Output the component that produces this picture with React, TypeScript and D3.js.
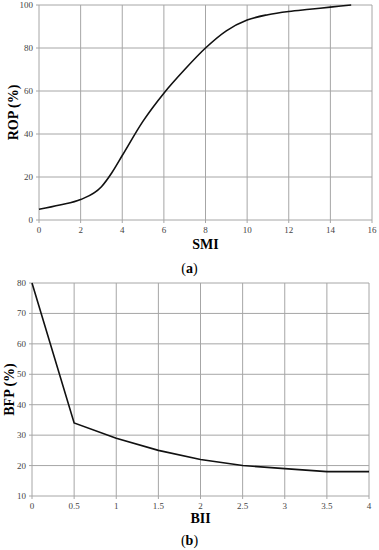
import * as React from "react";
import * as d3 from "d3";

// panel (a)
const smiX = [0, 1, 2, 3, 3.5, 4, 5, 6, 7, 8, 9, 10, 11, 12, 13, 14, 15];
const ropY = [5, 7, 9.5, 15.5, 22, 30, 46, 59, 70, 80, 88, 93, 95.5, 97, 98, 99, 100];
const smiTicks = [0, 2, 4, 6, 8, 10, 12, 14, 16];
const ropTicks = [0, 20, 40, 60, 80, 100];

// panel (b)
const biiX = [0, 0.5, 1, 1.5, 2, 2.5, 3, 3.5, 4];
const bfpY = [80, 34, 29, 25, 22, 20, 19, 18, 18];
const biiTicks = [0, 0.5, 1, 1.5, 2, 2.5, 3, 3.5, 4];
const bfpTicks = [10, 20, 30, 40, 50, 60, 70, 80];

const FONT = "'Liberation Serif', 'DejaVu Serif', serif";

function Panel(props) {
  const { xs, ys, xTicks, yTicks, xDom, yDom, box, xLabel, yLabel, caption, curve, yLabelX, xLabelDy, capDy } = props;
  const x = d3.scaleLinear().domain(xDom).range([box.left, box.right]);
  const y = d3.scaleLinear().domain(yDom).range([box.bottom, box.top]);
  const pts = xs.map((v, i) => [v, ys[i]]);
  const line = d3.line().x((d: any) => x(d[0])).y((d: any) => y(d[1])).curve(curve);
  const midY = (box.top + box.bottom) / 2;
  return (
    <g>
      {xTicks.map((t) => (
        <line key={"gx" + t} x1={x(t)} x2={x(t)} y1={box.top} y2={box.bottom + 3} stroke="#a6a6a6" strokeWidth={1} />
      ))}
      {yTicks.map((t) => (
        <line key={"gy" + t} x1={box.left - 3} x2={box.right} y1={y(t)} y2={y(t)} stroke="#a6a6a6" strokeWidth={1} />
      ))}
      {xTicks.map((t) => (
        <text key={"tx" + t} x={x(t)} y={box.bottom + 13} textAnchor="middle" fontSize={9} fill="#444" fontFamily={FONT}>
          {String(t)}
        </text>
      ))}
      {yTicks.map((t) => (
        <text key={"ty" + t} x={box.left - 6} y={y(t) + 3} textAnchor="end" fontSize={9} fill="#444" fontFamily={FONT}>
          {t}
        </text>
      ))}
      <path d={line(pts as any) as string} fill="none" stroke="#111" strokeWidth={1.6} />
      <text x={(box.left + box.right) / 2} y={box.bottom + xLabelDy} textAnchor="middle" fontSize={14} fontWeight="bold" fontFamily={FONT}>
        {xLabel}
      </text>
      <text transform={`translate(${yLabelX},${midY}) rotate(-90)`} textAnchor="middle" fontSize={14} fontWeight="bold" fontFamily={FONT}>
        {yLabel}
      </text>
      <text x={189.5} y={box.bottom + capDy} textAnchor="middle" fontSize={14} fontFamily={FONT}>
        (<tspan fontWeight="bold">{caption}</tspan>)
      </text>
    </g>
  );
}

export default function App() {
  return (
    <svg width={379} height={550} style={{ position: "absolute", left: 0, top: 0, background: "#fff" }}>
      <Panel
        xs={smiX} ys={ropY} xTicks={smiTicks} yTicks={ropTicks}
        xDom={[0, 16]} yDom={[0, 100]}
        box={{ left: 39, right: 372, top: 5, bottom: 220 }}
        xLabel="SMI" yLabel="ROP (%)" caption="a"
        curve={d3.curveMonotoneX} yLabelX={18} xLabelDy={29} capDy={53}
      />
      <Panel
        xs={biiX} ys={bfpY} xTicks={biiTicks} yTicks={bfpTicks}
        xDom={[0, 4]} yDom={[10, 80]}
        box={{ left: 32, right: 369, top: 283, bottom: 496 }}
        xLabel="BII" yLabel="BFP (%)" caption="b"
        curve={d3.curveLinear} yLabelX={14} xLabelDy={27} capDy={49}
      />
    </svg>
  );
}
